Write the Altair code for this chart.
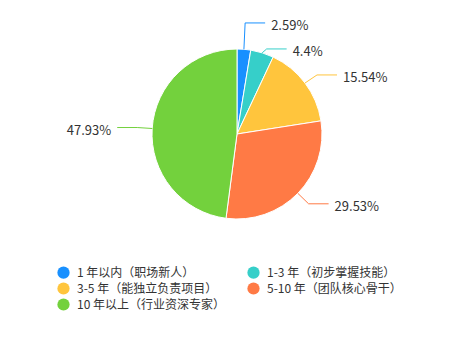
import math
import altair as alt
import pandas as pd

categories = ["1 年以内（职场新人）", "1-3 年（初步掌握技能）", "3-5 年（能独立负责项目）",
              "5-10 年（团队核心骨干）", "10 年以上（行业资深专家）"]
values = [2.59, 4.4, 15.54, 29.53, 47.93]
colors = ["#1890FF", "#36CFC9", "#FFC53D", "#FF7A45", "#73D13D"]

W, H = 474, 340
CX, CY, R = 237, 134, 85
L1, L2, GAP = 15, 20, 26
FONT = "Noto Sans CJK SC"

pie = pd.DataFrame({"cat": categories, "value": values, "idx": range(len(values))})

# label layout computed from the values
total = sum(values)
cum = 0
items = []
for i, v in enumerate(values):
    mid = (cum + v / 2) / total * 2 * math.pi
    cum += v
    s, c = math.sin(mid), math.cos(mid)
    items.append({
        "i": i, "side": 1 if s >= 0 else -1,
        "sx": CX + R * s, "sy": CY - R * c,
        "ex": CX + (R + L1) * s, "ey": CY - (R + L1) * c,
    })

for side in (1, -1):
    grp = sorted([it for it in items if it["side"] == side], key=lambda d: d["ey"])
    for _ in range(50):
        moved = False
        for a, b in zip(grp, grp[1:]):
            d = b["ey"] - a["ey"]
            if d < GAP - 0.01:
                sh = (GAP - d) / 2
                a["ey"] -= sh
                b["ey"] += sh
                moved = True
        if not moved:
            break

line_rows, lab_rows = [], []
for it in items:
    i = it["i"]
    endx = it["ex"] + it["side"] * L2
    for k, (px, py) in enumerate([(it["sx"], it["sy"]), (it["ex"], it["ey"]), (endx, it["ey"])]):
        line_rows.append({"cat": categories[i], "hex": colors[i], "k": k, "px": px, "py": py})
    lab_rows.append({"side": it["side"], "tx": endx + it["side"] * 6, "ty": it["ey"] + 3,
                     "label": f"{values[i]:g}%"})
lines = pd.DataFrame(line_rows)
labs = pd.DataFrame(lab_rows)

color = alt.Color(
    "cat:N",
    scale=alt.Scale(domain=categories, range=colors),
    sort=categories,
    legend=alt.Legend(
        title=None, orient="none", legendX=57, legendY=266, columns=2, direction="horizontal",
        columnPadding=21, rowPadding=3, symbolType="circle", symbolSize=150,
        symbolStrokeWidth=0, labelFontSize=12, labelFont=FONT, labelColor="#333333",
        labelOffset=7, padding=0, labelLimit=300,
    ),
)

arcs = alt.Chart(pie).mark_arc(outerRadius=R, stroke="white", strokeWidth=1).encode(
    theta=alt.Theta("value:Q", stack=True),
    order=alt.Order("idx:Q"),
    color=color,
    x=alt.value(CX),
    y=alt.value(CY),
)

leader = alt.Chart(lines).mark_line(strokeWidth=1).encode(
    x=alt.X("px:Q", scale=None),
    y=alt.Y("py:Q", scale=None),
    detail="cat:N",
    order="k:Q",
    color=alt.Color("hex:N", scale=None),
)

right = alt.Chart(labs).transform_filter("datum.side > 0").mark_text(
    align="left", baseline="middle", fontSize=13, font=FONT, color="#333333"
).encode(x=alt.X("tx:Q", scale=None), y=alt.Y("ty:Q", scale=None), text="label:N")

left = alt.Chart(labs).transform_filter("datum.side < 0").mark_text(
    align="right", baseline="middle", fontSize=13, font=FONT, color="#333333"
).encode(x=alt.X("tx:Q", scale=None), y=alt.Y("ty:Q", scale=None), text="label:N")

chart = alt.layer(arcs, leader, right, left).properties(
    width=W, height=H, padding=0, autosize="none", background="white"
).configure_view(stroke=None)

chart.save("out.html", embed_options={"renderer": "svg", "actions": False})
